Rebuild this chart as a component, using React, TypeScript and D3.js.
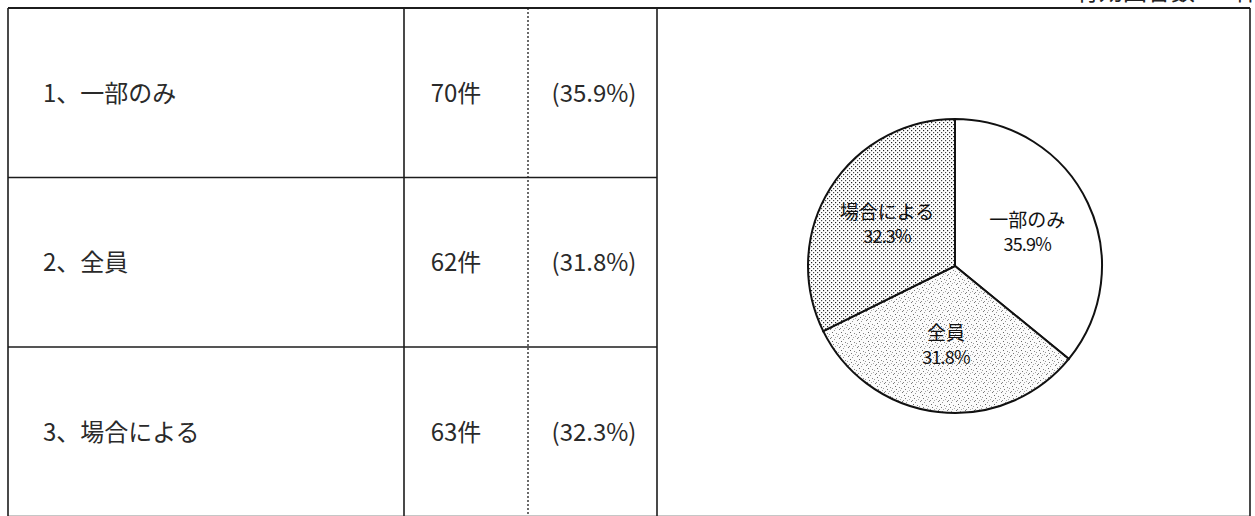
import React from 'react';
import * as d3 from 'd3';

// answer options, counts and shares
const categories = ['一部のみ', '全員', '場合による'];
const counts = [70, 62, 63];
const percents = [35.9, 31.8, 32.3];
const fills = ['#ffffff', 'url(#speckle)', 'url(#dots)'];

const W = 1255;
const H = 516;
const FONT = '"Noto Sans CJK JP", "Noto Sans", sans-serif';

// table grid
const colX = [8, 404, 528, 657, 1250];
const rowY = d3.range(categories.length + 1).map(i => 8 + i * 169.5);

const pieCx = 955;
const pieCy = 266;
const pieR = 147;

const App = () => {
    const arcs = d3.pie<number>().sort(null).value(d => d)(percents);
    const arcGen = d3.arc<d3.PieArcDatum<number>>().innerRadius(0).outerRadius(pieR);
    const labelArc = d3.arc<d3.PieArcDatum<number>>().innerRadius(80).outerRadius(80);
    const line = '#1c1c1c';

    return (
        <svg width={W} height={H} style={{ position: 'absolute', left: 0, top: 0, background: '#fff' }}>
            <defs>
                <pattern id="dots" width="4" height="4" patternUnits="userSpaceOnUse">
                    <rect width="4" height="4" fill="#fff" />
                    <rect x="0" y="0" width="1.2" height="1.2" fill="#222" />
                    <rect x="2" y="2" width="1.2" height="1.2" fill="#444" />
                </pattern>
                <pattern id="speckle" width="9" height="9" patternUnits="userSpaceOnUse">
                    <rect width="9" height="9" fill="#fbfbfb" />
                    <rect x="1" y="0" width="1" height="1" fill="#777" />
                    <rect x="5" y="1" width="1" height="1" fill="#999" />
                    <rect x="3" y="3" width="1" height="1" fill="#666" />
                    <rect x="7" y="4" width="1" height="1" fill="#888" />
                    <rect x="0" y="5" width="1" height="1" fill="#999" />
                    <rect x="4" y="6" width="1" height="1" fill="#777" />
                    <rect x="8" y="7" width="1" height="1" fill="#aaa" />
                    <rect x="2" y="8" width="1" height="1" fill="#888" />
                    <rect x="6" y="8" width="1" height="1" fill="#aaa" />
                </pattern>
            </defs>

            {/* cut-off header at the top right */}
            <text x={1075} y={0} fontFamily={FONT} fontSize={24} fill="#222">有効回答数195件</text>

            {/* table lines: inner row lines stop at the pie cell */}
            {rowY.map((y, i) => (
                <line key={'h' + i} x1={colX[0]} x2={i === 0 || i === rowY.length - 1 ? colX[4] : colX[3]}
                    y1={y} y2={y} stroke={line} strokeWidth={i === 0 ? 2 : 1.6} />
            ))}
            {colX.map((x, i) => (
                <line key={'v' + i} x1={x} x2={x} y1={rowY[0]} y2={H + 10}
                    stroke={line} strokeWidth={i === 2 ? 1.3 : 1.6}
                    strokeDasharray={i === 2 ? '2,2' : undefined} />
            ))}

            {/* table text */}
            {categories.map((c, i) => {
                const cy = (rowY[i] + rowY[i + 1]) / 2 + 9;
                return (
                    <g key={c} fontFamily={FONT} fontSize={24} fill="#2a2a2a">
                        <text x={43} y={cy}>{`${i + 1}、${c}`}</text>
                        <text x={456} y={cy} textAnchor="middle">{counts[i]}件</text>
                        <text x={594} y={cy} textAnchor="middle">({percents[i].toFixed(1)}%)</text>
                    </g>
                );
            })}

            {/* pie */}
            <g transform={`translate(${pieCx},${pieCy})`}>
                {arcs.map((a, i) => (
                    <path key={i} d={arcGen(a) || ''} fill={fills[i]} stroke="#111" strokeWidth={2} />
                ))}
                {arcs.map((a, i) => {
                    const [lx, ly] = labelArc.centroid(a);
                    return (
                        <g key={'l' + i} fontFamily={FONT} fill="#111" textAnchor="middle">
                            <text x={lx} y={ly - 5} fontSize={19}>{categories[i]}</text>
                            <text x={lx} y={ly + 19} fontSize={18} letterSpacing={-0.8}>{percents[i].toFixed(1)}%</text>
                        </g>
                    );
                })}
            </g>
        </svg>
    );
};

export default App;
